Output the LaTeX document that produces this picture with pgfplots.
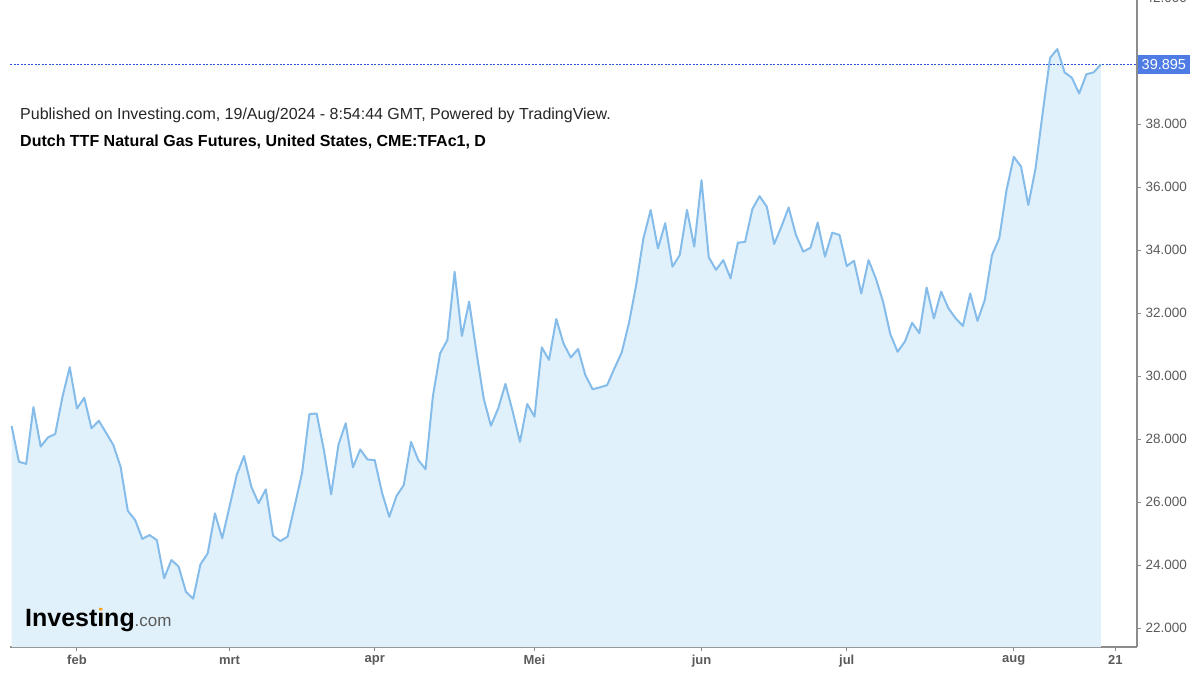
\documentclass[border=0pt]{standalone}
\usepackage{pgfplots}
\usepackage{pgfplotstable}
\pgfplotsset{compat=1.18}
\usepackage{fontspec}
\setmainfont{Liberation Sans}
\definecolor{linec}{RGB}{133,188,234}
\definecolor{fillc}{RGB}{224,241,251}
\definecolor{axc}{RGB}{140,140,140}
\definecolor{txtc}{RGB}{90,90,90}
\definecolor{dashc}{RGB}{45,85,215}
\definecolor{boxc}{RGB}{78,124,228}
\definecolor{logoorange}{RGB}{245,165,30}

\pgfplotstableread{
x y
-9 28.41
-8 27.28
-7 27.21
-6 29.01
-5 27.76
-4 28.05
-3 28.16
-2 29.34
-1 30.28
0 28.97
1 29.31
2 28.34
3 28.58
4 28.20
5 27.81
6 27.12
7 25.72
8 25.43
9 24.83
10 24.95
11 24.79
12 23.58
13 24.16
14 23.95
15 23.15
16 22.93
17 24.02
18 24.37
19 25.64
20 24.85
21 25.85
22 26.86
23 27.46
24 26.49
25 25.96
26 26.40
27 24.93
28 24.76
29 24.90
30 25.90
31 26.93
32 28.79
33 28.81
34 27.65
35 26.24
36 27.81
37 28.50
38 27.10
39 27.67
40 27.35
41 27.33
42 26.30
43 25.53
44 26.19
45 26.54
46 27.91
47 27.33
48 27.04
49 29.34
50 30.72
51 31.14
52 33.31
53 31.27
54 32.36
55 30.77
56 29.29
57 28.42
58 28.97
59 29.75
60 28.87
61 27.91
62 29.11
63 28.71
64 30.91
65 30.51
66 31.81
67 31.03
68 30.59
69 30.86
70 30.03
71 29.58
72 29.64
73 29.71
74 30.24
75 30.74
76 31.67
77 32.89
78 34.37
79 35.27
80 34.05
81 34.85
82 33.47
83 33.84
84 35.27
85 34.11
86 36.22
87 33.77
88 33.37
89 33.68
90 33.10
91 34.23
92 34.26
93 35.30
94 35.71
95 35.37
96 34.19
97 34.74
98 35.35
99 34.48
100 33.95
101 34.07
102 34.87
103 33.79
104 34.55
105 34.48
106 33.49
107 33.66
108 32.62
109 33.68
110 33.10
111 32.36
112 31.33
113 30.77
114 31.09
115 31.69
116 31.36
117 32.81
118 31.83
119 32.68
120 32.15
121 31.83
122 31.59
123 32.62
124 31.75
125 32.41
126 33.84
127 34.37
128 35.90
129 36.96
130 36.65
131 35.43
132 36.59
133 38.39
134 40.10
135 40.38
136 39.64
137 39.47
138 38.97
139 39.58
140 39.64
141 39.895
}\datatable

\begin{document}
\begin{tikzpicture}[x=1pt,y=1pt]
\useasboundingbox (0,0) rectangle (1200,675);
\begin{axis}[
  at={(10pt,28pt)}, anchor=south west, scale only axis,
  width=1127pt, height=660pt,
  xmin=-9.226, xmax=145.97, ymin=21.397, ymax=42.35,
  axis x line*=bottom, axis y line*=right,
  axis line style={axc, line width=1.6pt},
  xtick={0,21,41,63,86,106,129,143},
  xticklabels={feb,mrt,apr,Mei,jun,jul,aug,21},
  ytick={22,24,26,28,30,32,34,36,38,40,42},
  yticklabels={22.000,24.000,26.000,28.000,30.000,32.000,34.000,36.000,38.000,,42.000},
  tick align=outside, major tick length=4pt,
  tick style={axc, line width=1pt},
  xticklabel style={font=\fontsize{13}{13}\selectfont\bfseries, text=txtc, yshift=-1pt},
  yticklabel style={font=\fontsize{13.5}{13.5}\selectfont, text=txtc, xshift=1pt},
  grid=none,
]
\addplot[fill=fillc, draw=none] table[x=x,y=y] {\datatable} \closedcycle;
\addplot[dashc, line width=0.8pt, dash pattern=on 2pt off 1.5pt] coordinates {(-9.226,39.895) (145.97,39.895)};
\addplot[linec, line width=2pt, line join=round] table[x=x,y=y] {\datatable};
\coordinate (lp) at (axis cs:145.97,39.895);
\end{axis}
\node[fill=boxc, text=white, anchor=west, font=\fontsize{14.5}{14.5}\selectfont, inner xsep=4pt, minimum height=19pt] at ([xshift=0.5pt]lp) {39.895};
\node[anchor=west, inner sep=0pt, font=\fontsize{16}{16}\selectfont, text=black!85] at (20,560) {Published on Investing.com, 19/Aug/2024 - 8:54:44 GMT, Powered by TradingView.};
\node[anchor=west, inner sep=0pt, font=\bfseries\fontsize{16}{16}\selectfont, text=black] at (20,533) {Dutch TTF Natural Gas Futures, United States, CME:TFAc1, D};
\node[anchor=base west, inner sep=0pt] at (25,48) {\fontsize{25}{25}\selectfont\bfseries Invest\rlap{\color{logoorange}i}ı\kern-0.2pt ng\fontsize{17}{17}\selectfont\mdseries\color{txtc}.com};
\end{tikzpicture}
\end{document}
